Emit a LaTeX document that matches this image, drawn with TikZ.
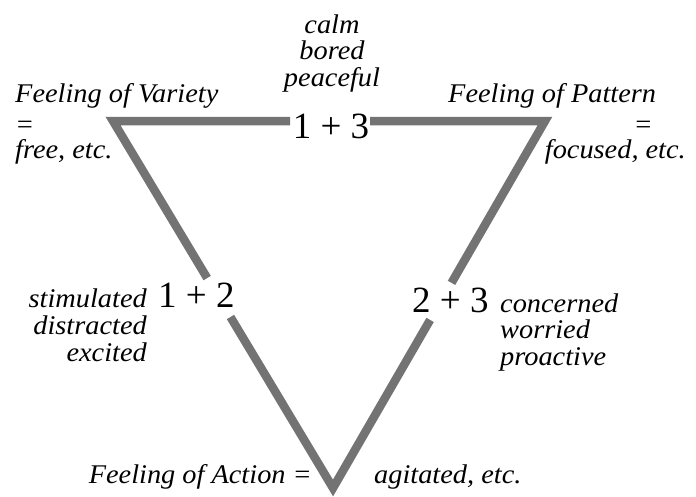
\documentclass[tikz,border=0pt]{standalone}
\usepackage{fontspec}
\setmainfont{Liberation Serif}
\newfontfamily\wordfont{Liberation Serif}[FakeStretch=1.05]
\usetikzlibrary{calc}
\begin{document}
\begin{tikzpicture}[x=1pt,y=-1pt,
  tri/.style={draw=black!55, line width=8.5pt, line join=miter, line cap=butt},
  word/.style={font=\wordfont\fontsize{27}{27}\selectfont\itshape, inner sep=0pt},
  sumlbl/.style={font=\fontsize{37}{37}\selectfont, inner sep=0pt}]
\useasboundingbox[fill=white] (0,0) rectangle (696,496);
% triangle corners
\coordinate (tl) at (113,121);
\coordinate (tr) at (545,121);
\coordinate (bt) at (333,488);
% gap ends
\coordinate (g13a) at ($(tl)!0.410!(tr)$);
\coordinate (g13b) at ($(tl)!0.595!(tr)$);
\coordinate (g12a) at ($(tl)!0.428!(bt)$);
\coordinate (g12b) at ($(tl)!0.534!(bt)$);
\coordinate (g23a) at ($(tr)!0.441!(bt)$);
\coordinate (g23b) at ($(tr)!0.542!(bt)$);
\draw[tri] (g13a) -- (tl) -- (g12a);
\draw[tri] (g13b) -- (tr) -- (g23a);
\draw[tri] (g12b) -- (bt) -- (g23b);
% sums
\node[sumlbl, anchor=base] (s13) at (331,138) {1 + 3};
\node[sumlbl, anchor=base west] (s12) at (158,307) {1 + 2};
\node[sumlbl, anchor=base west] (s23) at (412,312) {2 + 3};
% top
\node[word, anchor=base] (c1) at (332,33) {calm};
\node[word, anchor=base] (c2) at (332,59) {bored};
\node[word, anchor=base] (c3) at (332,86) {peaceful};
% variety
\node[word, anchor=base west] (v1) at (15,102) {Feeling of Variety};
\node[word, anchor=base west] (v2) at (15,133) {=};
\node[word, anchor=base west] (v3) at (15,158) {free, etc.};
% pattern
\node[word, anchor=base west] (p1) at (448,102) {Feeling of Pattern};
\node[word, anchor=base east] (p2) at (653,133) {=};
\node[word, anchor=base east] (p3) at (686,158) {focused, etc.};
% left
\node[word, anchor=base east] (l1) at (147,307) {stimulated};
\node[word, anchor=base east] (l2) at (147,334) {distracted};
\node[word, anchor=base east] (l3) at (147,361) {excited};
% right
\node[word, anchor=base west] (r1) at (500,312) {concerned};
\node[word, anchor=base west] (r2) at (500,338) {worried};
\node[word, anchor=base west] (r3) at (500,365) {proactive};
% bottom
\node[word, anchor=base east] (a1) at (312,483) {Feeling of Action =};
\node[word, anchor=base west] (a2) at (374,483) {agitated, etc.};
\end{tikzpicture}
\end{document}
